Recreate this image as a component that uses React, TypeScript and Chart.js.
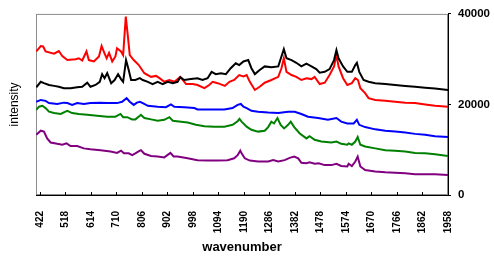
import React, { useEffect, useRef } from "react";
import { Chart, registerables } from "chart.js";

Chart.register(...registerables);

const xTicks = [422, 518, 614, 710, 806, 902, 998, 1094, 1190, 1286, 1382, 1478, 1574, 1670, 1766, 1862, 1958];
const yTicks = [0, 20000, 40000];
const xTitle = "wavenumber";
const yTitle = "intensity";

const redWn = [408, 425, 434, 443, 475, 493, 506, 525, 556, 568, 581, 597, 606, 625, 644, 654, 665, 673, 682, 694, 706, 712, 727, 735, 745, 753, 760, 775, 794, 802, 815, 840, 859, 872, 890, 909, 928, 950, 972, 997, 1015, 1041, 1059, 1072, 1091, 1118, 1135, 1153, 1172, 1188, 1200, 1212, 1231, 1249, 1268, 1293, 1319, 1331, 1340, 1350, 1369, 1387, 1406, 1425, 1444, 1456, 1475, 1494, 1512, 1529, 1538, 1546, 1563, 1579, 1596, 1609, 1619, 1628, 1646, 1659, 1684, 1722, 1759, 1797, 1834, 1872, 1909, 1958];
const redI = [31700, 32900, 32800, 31700, 31200, 31800, 30700, 29800, 30000, 30200, 29700, 31700, 29800, 29500, 30600, 32900, 31300, 30200, 31400, 29500, 30600, 32400, 31700, 30900, 39400, 35000, 30900, 29800, 28700, 28000, 26900, 26100, 26300, 25800, 25000, 25400, 25000, 26100, 24500, 24500, 24300, 23600, 24300, 25000, 24700, 24100, 25000, 25400, 26500, 26200, 26500, 25000, 23200, 23900, 24800, 25400, 26100, 28000, 30200, 27200, 26500, 26100, 25400, 25800, 25600, 26100, 24500, 24800, 26500, 28400, 30900, 28400, 25800, 24300, 24700, 25800, 25400, 23600, 22500, 21400, 21000, 20800, 20600, 20400, 20300, 20000, 19700, 19500];

const blackWn = [408, 425, 437, 456, 475, 493, 512, 537, 562, 581, 600, 612, 631, 647, 656, 665, 675, 690, 703, 716, 727, 735, 746, 756, 765, 781, 798, 809, 828, 846, 865, 884, 903, 922, 940, 950, 965, 990, 1015, 1034, 1053, 1068, 1084, 1103, 1122, 1140, 1159, 1172, 1188, 1206, 1218, 1231, 1249, 1268, 1293, 1319, 1331, 1340, 1350, 1369, 1387, 1406, 1425, 1444, 1462, 1475, 1494, 1512, 1529, 1538, 1546, 1563, 1579, 1596, 1609, 1615, 1624, 1640, 1659, 1684, 1722, 1759, 1797, 1834, 1872, 1909, 1958];
const blackI = [23800, 25000, 24700, 24300, 24100, 23900, 23600, 23600, 23800, 23900, 24800, 23900, 24300, 25000, 26700, 25800, 26900, 24700, 25400, 26700, 25600, 25000, 29800, 27600, 25400, 25400, 25800, 25400, 25000, 24500, 25000, 24500, 25000, 24700, 25000, 26000, 25400, 25600, 25800, 25400, 25800, 27200, 26700, 26900, 26700, 28000, 29100, 28700, 29500, 29800, 28000, 26700, 27600, 28400, 28200, 28400, 30600, 32200, 30200, 29800, 29200, 28400, 29000, 28400, 27800, 27000, 27200, 27800, 29800, 32000, 30200, 28400, 27200, 27200, 28700, 29200, 27200, 25400, 25000, 24700, 24500, 24300, 24100, 23900, 23700, 23500, 23200];

const blueWn = [408, 425, 443, 456, 487, 512, 525, 543, 562, 587, 612, 650, 675, 712, 731, 748, 760, 775, 787, 798, 809, 828, 865, 896, 915, 928, 965, 1003, 1015, 1065, 1116, 1147, 1166, 1178, 1188, 1200, 1218, 1243, 1281, 1319, 1356, 1381, 1406, 1431, 1469, 1506, 1538, 1556, 1579, 1603, 1615, 1624, 1646, 1684, 1722, 1759, 1797, 1834, 1872, 1909, 1958];
const blueI = [20600, 21000, 20800, 20300, 20100, 20400, 20300, 19900, 20300, 20100, 20300, 20400, 20300, 20300, 20600, 21400, 20600, 19900, 20400, 20600, 20300, 19700, 19500, 19400, 20000, 19500, 19400, 19200, 18900, 18900, 18900, 19200, 19900, 20100, 19500, 19200, 18600, 18400, 18200, 18100, 18400, 18400, 17900, 17300, 17000, 16600, 17000, 16200, 15800, 15800, 16600, 15500, 15000, 14500, 14200, 14000, 13800, 13500, 13300, 13000, 12800];

const greenWn = [408, 418, 431, 443, 456, 475, 500, 518, 525, 543, 568, 600, 637, 675, 706, 725, 735, 750, 769, 781, 798, 802, 815, 840, 865, 890, 909, 922, 953, 978, 1009, 1041, 1078, 1116, 1147, 1166, 1173, 1181, 1200, 1218, 1243, 1268, 1281, 1293, 1303, 1316, 1328, 1341, 1356, 1366, 1379, 1400, 1425, 1437, 1456, 1481, 1519, 1538, 1556, 1579, 1584, 1596, 1609, 1618, 1628, 1646, 1684, 1722, 1759, 1797, 1834, 1872, 1909, 1958];
const greenI = [18800, 19500, 19700, 19200, 18400, 18100, 17900, 18400, 18600, 18100, 17900, 17700, 17500, 17300, 17300, 17900, 17200, 17200, 16700, 16700, 17500, 17700, 17000, 16700, 16400, 16600, 17200, 16400, 16200, 16000, 15500, 15200, 15100, 15100, 15500, 16300, 16800, 16200, 15100, 14400, 14000, 14200, 15000, 16200, 15800, 17000, 15500, 14700, 15500, 16200, 15000, 13600, 12500, 13000, 12200, 11800, 11600, 11800, 11300, 11100, 11400, 11100, 11800, 12800, 11100, 10700, 10300, 9900, 9800, 9600, 9300, 9200, 9000, 8600];

const purpleWn = [408, 425, 437, 449, 462, 487, 506, 522, 537, 562, 587, 612, 650, 688, 712, 727, 738, 756, 769, 781, 798, 802, 815, 840, 865, 890, 913, 925, 940, 978, 1015, 1053, 1091, 1128, 1153, 1166, 1176, 1181, 1193, 1212, 1243, 1281, 1300, 1319, 1343, 1362, 1379, 1394, 1406, 1425, 1437, 1456, 1471, 1494, 1519, 1538, 1556, 1579, 1584, 1596, 1609, 1618, 1628, 1646, 1684, 1722, 1759, 1797, 1834, 1872, 1909, 1958];
const purpleI = [13300, 14200, 14000, 12500, 11600, 11300, 11100, 11400, 10800, 10800, 10300, 10100, 9900, 9600, 9300, 9800, 9200, 9200, 8800, 9200, 9800, 9900, 9100, 8600, 8500, 8300, 9300, 8500, 8500, 8100, 7700, 7600, 7600, 7700, 8100, 8800, 9800, 9200, 8100, 7600, 7400, 7400, 7700, 7400, 7700, 8200, 8500, 8100, 7100, 7000, 7200, 6900, 7000, 6600, 6600, 6900, 6400, 6300, 6900, 6400, 7400, 8500, 6300, 5500, 5200, 5000, 4900, 4800, 4600, 4600, 4600, 4400];

const FONT = 'Arial, "Liberation Sans", sans-serif';

const toPoints = (xs: number[], ys: number[]) => xs.map((x, i) => ({ x, y: ys[i] }));

const framePlugin = {
  id: "frameAndTitles",
  beforeDatasetsDraw(chart: any) {
    const { ctx, chartArea: a } = chart;
    ctx.save();
    ctx.strokeStyle = "#8c8c8c";
    ctx.lineWidth = 1;
    ctx.strokeRect(a.left + 0.5, a.top + 0.5, a.right - a.left - 1, a.bottom - a.top - 1);
    ctx.restore();
  },
  afterDraw(chart: any) {
    const { ctx, chartArea: a } = chart;
    const xs = chart.scales.x;
    ctx.save();
    ctx.strokeStyle = "#000";
    ctx.lineWidth = 1;
    ctx.beginPath();
    xTicks.forEach((v) => {
      const p = Math.round(xs.getPixelForValue(v)) + 0.5;
      ctx.moveTo(p, a.bottom);
      ctx.lineTo(p, a.bottom - 3);
    });
    ctx.stroke();
    ctx.fillStyle = "#000";
    ctx.textAlign = "center";
    ctx.textBaseline = "middle";
    ctx.font = `bold 13px ${FONT}`;
    ctx.fillText(xTitle, (a.left + a.right) / 2, 247);
    ctx.translate(15, (a.top + a.bottom) / 2);
    ctx.rotate(-Math.PI / 2);
    ctx.font = `12px ${FONT}`;
    ctx.fillText(yTitle, 0, 0);
    ctx.restore();
  },
};

export default function App() {
  const ref = useRef<HTMLCanvasElement | null>(null);
  useEffect(() => {
    if (!ref.current) return;
    const line = (label: string, xs: number[], ys: number[], color: string) => ({
      label,
      data: toPoints(xs, ys),
      borderColor: color,
      backgroundColor: color,
      borderWidth: 2,
      pointRadius: 0,
      tension: 0,
      fill: false,
    });
    const chart = new Chart(ref.current, {
      type: "line",
      data: {
        datasets: [
          line("black", blackWn, blackI, "#000000"),
          line("red", redWn, redI, "#ff0000"),
          line("blue", blueWn, blueI, "#0000ff"),
          line("green", greenWn, greenI, "#008000"),
          line("purple", purpleWn, purpleI, "#800080"),
        ],
      },
      options: {
        animation: false,
        responsive: false,
        devicePixelRatio: 1,
        layout: { padding: { left: 36, top: 13, right: 0, bottom: 0 } },
        plugins: { legend: { display: false }, tooltip: { enabled: false } },
        scales: {
          x: {
            type: "linear",
            position: "bottom",
            min: 407,
            max: 1958,
            afterBuildTicks: (s: any) => {
              s.ticks = xTicks.map((v) => ({ value: v }));
            },
            afterFit: (s: any) => {
              s.height = 61;
            },
            grid: { display: false, drawTicks: false },
            border: { display: true, color: "#000", width: 1 },
            ticks: {
              autoSkip: false,
              minRotation: 90,
              maxRotation: 90,
              padding: 16,
              color: "#000",
              font: { family: FONT, size: 10, weight: "bold" },
              callback: (v: any) => String(v),
            },
          },
          y: {
            type: "linear",
            position: "right",
            min: 0,
            max: 40000,
            afterBuildTicks: (s: any) => {
              s.ticks = yTicks.map((v) => ({ value: v }));
            },
            afterFit: (s: any) => {
              s.width = 46;
            },
            grid: { display: true, drawOnChartArea: false, drawTicks: true, tickLength: 3, color: "#000" },
            border: { display: true, color: "#000", width: 1 },
            ticks: {
              padding: 7,
              color: "#000",
              font: { family: FONT, size: 11.5, weight: "bold" },
              callback: (v: any) => String(v),
            },
          },
        },
      },
      plugins: [framePlugin],
    } as any);
    return () => chart.destroy();
  }, []);
  return (
    <div style={{ position: "absolute", left: 0, top: 0, width: 494, height: 256 }}>
      <canvas ref={ref} width={494} height={256} style={{ display: "block", width: 494, height: 256 }} />
    </div>
  );
}
